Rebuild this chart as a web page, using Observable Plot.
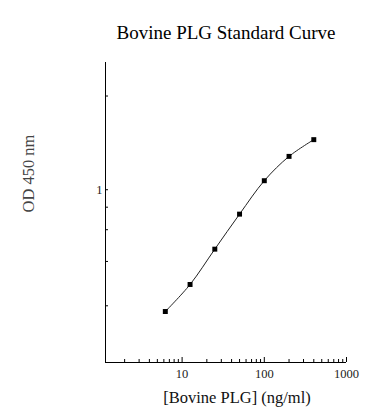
<!DOCTYPE html>
<html>
<head>
<meta charset="utf-8">
<script src="https://cdn.jsdelivr.net/npm/d3@7"></script>
<script src="https://cdn.jsdelivr.net/npm/@observablehq/plot@0.6"></script>
<style>
  html, body { margin: 0; padding: 0; background: #fff; }
  #chart svg { display: block; }
</style>
</head>
<body>
<div id="chart"></div>
<script>
// Data
const concentrations = [6.25, 12.5, 25, 50, 100, 200, 400];      // ng/ml
const odValues       = [0.211, 0.298, 0.468, 0.732, 1.122, 1.531, 1.896];

const xDomain = [1.17, 1000];
const yDomain = [0.11, 5.08];

const xMajorTicks = [10, 100, 1000];
const xMinorTicks = [2, 3, 4, 5, 6, 7, 8, 9, 20, 30, 40, 50, 60, 70, 80, 90, 200, 300, 400, 500, 600, 700, 800, 900];
const yTicks = [0.227, 0.4, 0.6, 0.8, 1, 3.31];
const yLabeledTicks = [1];

const title = "Bovine PLG Standard Curve";
const xLabel = "[Bovine PLG] (ng/ml)";
const yLabel = "OD 450 nm";

const points = concentrations.map((c, i) => ({conc: c, od: odValues[i]}));

const serif = "'Liberation Serif', 'Times New Roman', Times, serif";

const chart = Plot.plot({
  width: 388,
  height: 420,
  marginLeft: 105,
  marginRight: 42,
  marginTop: 62,
  marginBottom: 58,
  style: {fontFamily: serif, background: "#fff", color: "#000", overflow: "visible"},
  x: {type: "log", domain: xDomain, axis: null},
  y: {type: "log", domain: yDomain, axis: null},
  marks: [
    // axis lines
    Plot.ruleX([xDomain[0]], {stroke: "#000", strokeWidth: 1}),
    Plot.ruleY([yDomain[0]], {stroke: "#000", strokeWidth: 1}),
    // y ticks (inward)
    Plot.axisY(yTicks, {anchor: "left", tickSize: -3, fill: "none", label: null}),
    Plot.axisY(yLabeledTicks, {anchor: "left", tickSize: 0, tickPadding: 3, label: null, fontSize: 12.5, fill: "#222", tickFormat: d => String(d)}),
    // x ticks (inward)
    Plot.axisX(xMinorTicks, {anchor: "bottom", tickSize: -3, fill: "none", label: null}),
    Plot.axisX(xMajorTicks, {anchor: "bottom", tickSize: -5, tickPadding: 12, label: null, fontSize: 12.5, fill: "#222", tickFormat: d => String(d)}),
    // curve and points
    Plot.line(points, {x: "conc", y: "od", curve: "catmull-rom", stroke: "#222", strokeWidth: 1}),
    Plot.dot(points, {x: "conc", y: "od", symbol: "square", r: 2.8, fill: "#000", stroke: "none"}),
    // texts
    Plot.text([title], {frameAnchor: "top", dy: -37, fontSize: 19, fill: "#000"}),
    Plot.text([xLabel], {frameAnchor: "bottom", dy: 40, dx: 11, fontSize: 16.5, fill: "#111"}),
    Plot.text([yLabel], {frameAnchor: "left", dx: -77, rotate: -90, fontSize: 16.5, fill: "#444"})
  ]
});
document.getElementById("chart").append(chart);
</script>
</body>
</html>
